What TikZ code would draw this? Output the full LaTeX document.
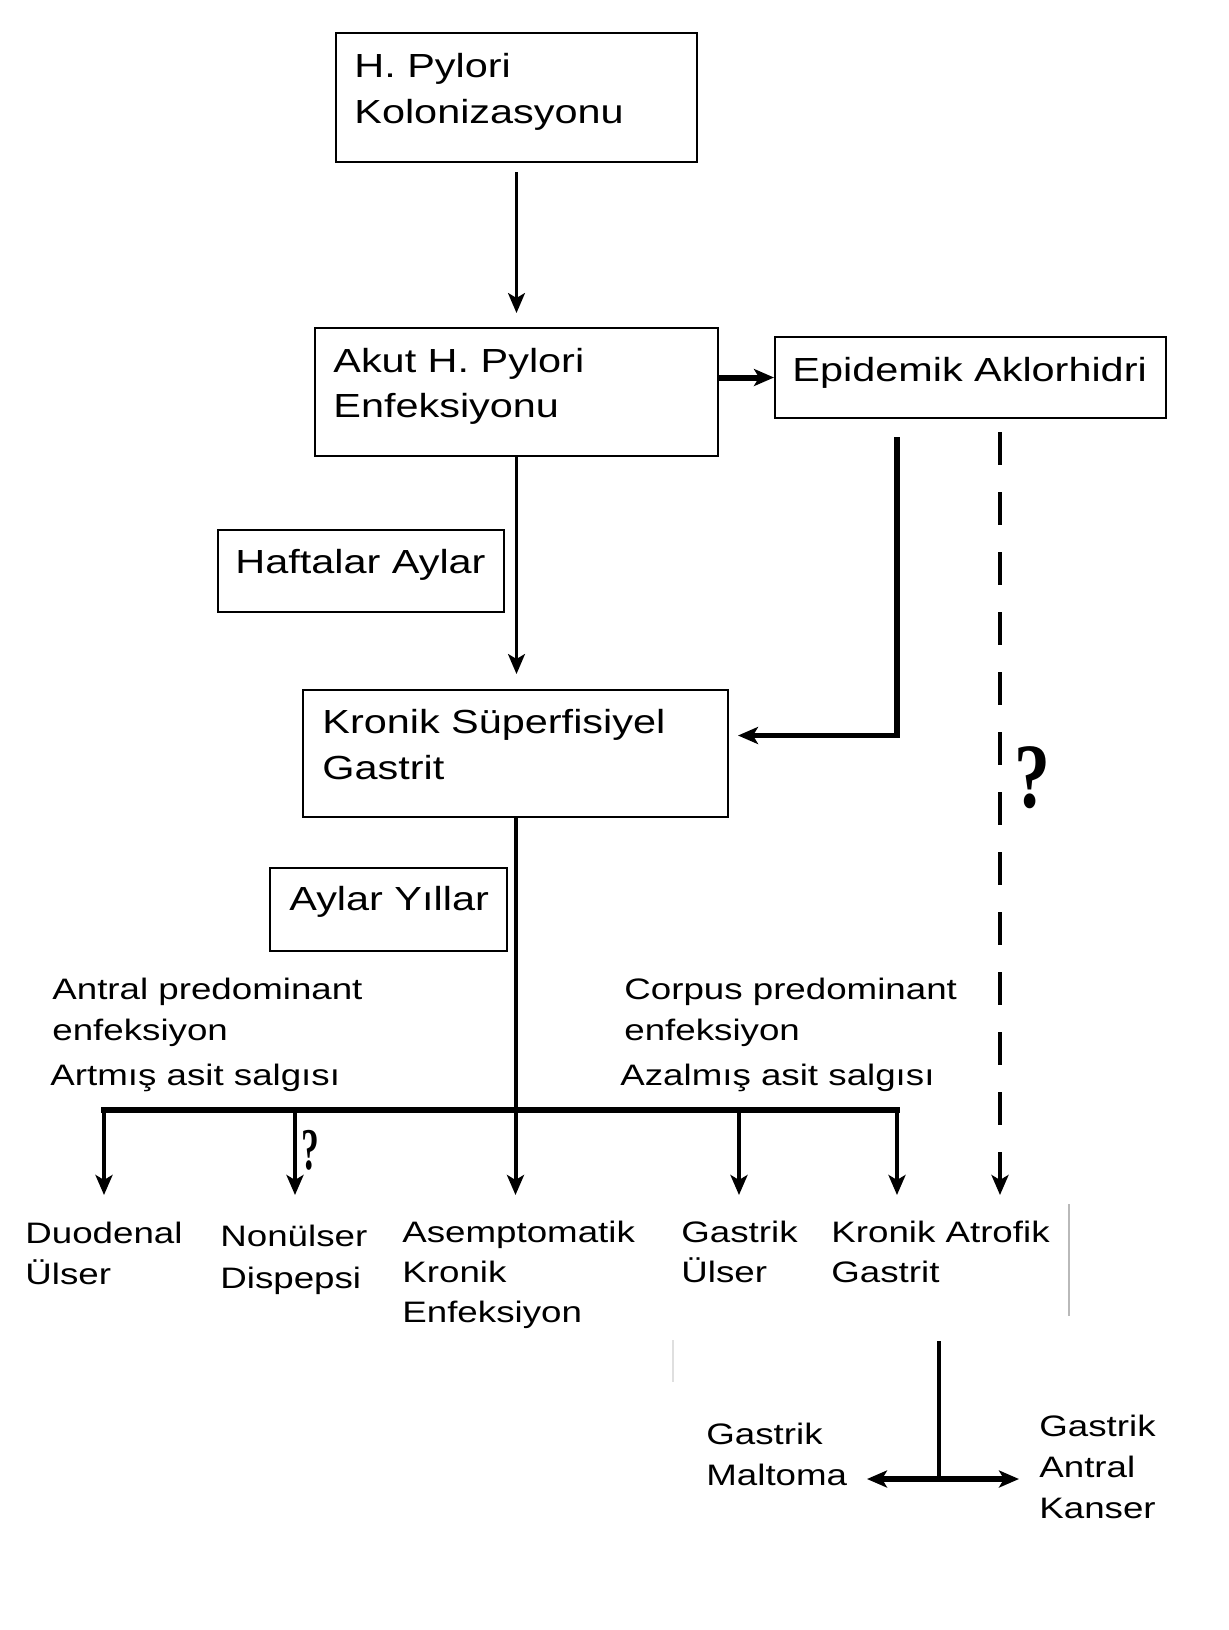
\documentclass[tikz,border=0pt]{standalone}
\usepackage{fontspec}
\setmainfont{Liberation Sans}[FakeStretch=1.24]
\newfontfamily\qfont{Liberation Serif}
\usetikzlibrary{calc,arrows.meta}
\begin{document}
\begin{tikzpicture}[x=0.5pt,y=-0.5pt,
  box/.style={draw,line width=1pt,inner sep=0pt,outer sep=0pt},
  bt/.style={anchor=base west,inner sep=0pt,font=\fontsize{16.7}{20}\selectfont},
  st/.style={anchor=base west,inner sep=0pt,font=\fontsize{14.8}{18}\selectfont},
  qm/.style={inner sep=0pt,font=\qfont\bfseries\fontsize{46}{46}\selectfont},
  qs/.style={inner sep=0pt,font=\qfont\bfseries\fontsize{29.6}{30}\selectfont},
  tip/.style={-{Stealth[length=10pt,width=8.5pt,inset=2.5pt]}},
  twotip/.style={{Stealth[length=10pt,width=8.5pt,inset=2.5pt]}-{Stealth[length=10pt,width=8.5pt,inset=2.5pt]}},
  thinln/.style={line width=1.4pt},
  medln/.style={line width=2pt},
  fatln/.style={line width=3pt},
  dashln/.style={line width=2.2pt,dash pattern=on 16.5pt off 13.5pt},
]
\fill[white] (0,0) rectangle (1229,1630);
\useasboundingbox (0,0) rectangle (1229,1630);

% boxes
\node[box,minimum width=180.5pt,minimum height=64.5pt] (b1) at (516.5,97.5) {};
\node[box,minimum width=201.5pt,minimum height=64pt] (b2) at (516.5,392) {};
\node[box,minimum width=195.5pt,minimum height=40.5pt] (epi) at (970.5,377.5) {};
\node[box,minimum width=143pt,minimum height=41pt] (haf) at (361,571) {};
\node[box,minimum width=212.5pt,minimum height=63.5pt] (b3) at (515.5,753.5) {};
\node[box,minimum width=118.5pt,minimum height=41.5pt] (ayl) at (388.5,909.5) {};

% box texts
\node[bt] (t1a) at (354,77) {H. Pylori};
\node[bt] (t1b) at (354,123) {Kolonizasyonu};
\node[bt] (t2a) at (333,372) {Akut H. Pylori};
\node[bt] (t2b) at (333,417) {Enfeksiyonu};
\node[bt] (te) at (792,381) {Epidemik Aklorhidri};
\node[bt] (th) at (235,573) {Haftalar Aylar};
\node[bt] (t3a) at (322,733) {Kronik Süperfisiyel};
\node[bt] (t3b) at (322,779) {Gastrit};
\node[bt] (ta) at (289,910) {Aylar Yıllar};

% side texts
\node[st] (an1) at (52,999) {Antral predominant};
\node[st] (an2) at (52,1040) {enfeksiyon};
\node[st] (an3) at (50,1085) {Artmış asit salgısı};
\node[st] (co1) at (624,999) {Corpus predominant};
\node[st] (co2) at (624,1040) {enfeksiyon};
\node[st] (co3) at (620,1085) {Azalmış asit salgısı};

% outcome texts
\node[st] (du1) at (25,1243) {Duodenal};
\node[st] (du2) at (25,1284) {Ülser};
\node[st] (no1) at (220,1246) {Nonülser};
\node[st] (no2) at (220,1288) {Dispepsi};
\node[st] (as1) at (402,1242) {Asemptomatik};
\node[st] (as2) at (402,1282) {Kronik};
\node[st] (as3) at (402,1322) {Enfeksiyon};
\node[st] (gu1) at (681,1242) {Gastrik};
\node[st] (gu2) at (681,1282) {Ülser};
\node[st] (ka1) at (831,1242) {Kronik Atrofik};
\node[st] (ka2) at (831,1282) {Gastrit};
\node[st] (ma1) at (706,1444) {Gastrik};
\node[st] (ma2) at (706,1485) {Maltoma};
\node[st] (gk1) at (1039,1436) {Gastrik};
\node[st] (gk2) at (1039,1477) {Antral};
\node[st] (gk3) at (1039,1518) {Kanser};

% question marks
\node[qm] (q1) at (1032,778) {\scalebox{0.78}[1]{?}};
\node[qs] (q2) at (310,1150) {\scalebox{0.6}[1]{?}};

% coordinates
\coordinate (ep) at ($(epi.south west)+(122,19)$);
\coordinate (dq) at ($(epi.south west)+(225,14)$);
\coordinate (tipy) at (0,1195);
\coordinate (bl) at (104,1110);
\coordinate (bn) at (295,1110);
\coordinate (bg) at (739,1110);
\coordinate (br) at (897,1110);
\coordinate (kt) at (939,1341);
\coordinate (kj) at (939,1479);
\coordinate (ml) at (867,1479);
\coordinate (kr) at (1019,1479);

% connectors
\draw[thinln,tip] ($(b1.south)+(0,10)$) -- ($(b2.north)+(0,-15)$);
\draw[thinln,tip] (b2.south) -- ($(b2.south |- b3.north)+(0,-16)$);
\draw[fatln,tip] (b2.east |- epi.west) -- ($(epi.west)+(-1,0)$);
\draw[line width=2.6pt,tip] (ep) |- ($(b3.east)+(10,-18)$);
\draw[dashln,tip] (dq) -- (dq |- tipy);
\draw[medln,tip] (b3.south) -- (b3.south |- tipy);
\draw[fatln,line cap=rect] (bl) -- (br);
\draw[medln,tip] (bl) -- (bl |- tipy);
\draw[medln,tip] (bn) -- (bn |- tipy);
\draw[medln,tip] (bg) -- (bg |- tipy);
\draw[medln,tip] (br) -- (br |- tipy);
\draw[medln] (kt) -- (kj);
\draw[line width=2.6pt,twotip] (ml) -- (kr);

% faint edges of pasted patches
\draw[gray!55,line width=0.7pt] (1069,1204) -- (1069,1316);
\draw[gray!25,line width=0.6pt] (673,1340) -- (673,1382);
\end{tikzpicture}
\end{document}
